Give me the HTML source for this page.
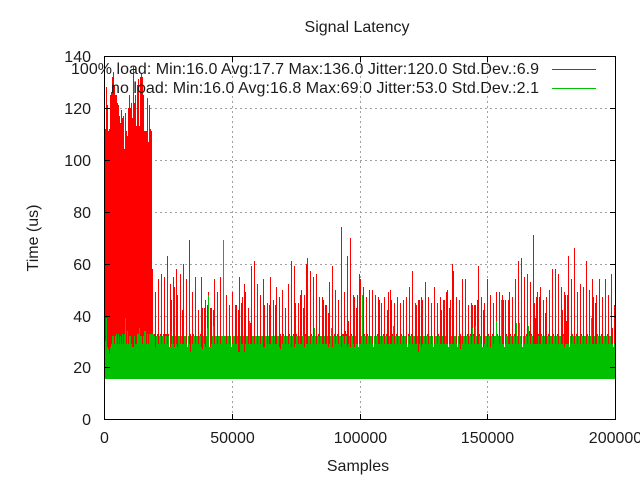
<!DOCTYPE html>
<html>
<head>
<meta charset="utf-8">
<title>Signal Latency</title>
<style>
html,body{margin:0;padding:0;background:#fff;width:640px;height:480px;overflow:hidden}
svg{display:block}
text{font-family:"Liberation Sans",sans-serif;font-size:16px;fill:#1c1c1c}
</style>
</head>
<body>
<svg id="chart" xmlns="http://www.w3.org/2000/svg" width="640" height="480" viewBox="0 0 640 480" shape-rendering="crispEdges">
  <rect x="0" y="0" width="640" height="480" fill="#fff"/>
  <g id="grid"></g>
  <g id="red-series"></g>
  <g id="green-series"></g>
  <g id="frame"></g>
  <g id="tick-labels"></g>
  <text x="357" y="32" text-anchor="middle">Signal Latency</text>
  <text x="358" y="471" text-anchor="middle">Samples</text>
  <text transform="translate(38,238) rotate(-90)" text-anchor="middle">Time (us)</text>
  <g>
    <text x="71" y="74" textLength="468" lengthAdjust="spacing">100% load: Min:16.0 Avg:17.7 Max:136.0 Jitter:120.0 Std.Dev.:6.9</text>
    <rect x="552" y="69" width="44" height="1" fill="#ff0000"/>
    <text x="111" y="93" textLength="428" lengthAdjust="spacing">no load: Min:16.0 Avg:16.8 Max:69.0 Jitter:53.0 Std.Dev.:2.1</text>
    <rect x="552" y="88" width="44" height="1" fill="#00c000"/>
  </g>
</svg>
<script>
const xTickValues = [0, 50000, 100000, 150000, 200000];
const yTickValues = [0, 20, 40, 60, 80, 100, 120, 140];
const sampleMax = 200000;
const baselineValue = 15.5;

const fullLoadValues = [
112,128,121,111,112,125,126,132,134,129,
125,125,122,121,117,114,119,116,117,104,
118,111,109,120,125,120,122,116,136,122,
125,113,129,131,113,132,133,132,125,111,
111,111,124,107,121,112,111,58,33,33,
49,30,33,54,30,33,56,30,33,55,
33,33,63,33,28,52,46,30,55,51,
30,58,48,30,30,56,30,42,60,30,
30,54,28,30,69,33,30,49,33,30,
55,30,30,42,30,33,55,43,30,43,
46,30,44,49,28,43,43,30,42,54,
30,30,49,30,30,55,30,30,69,30,
30,48,30,30,44,30,28,49,30,30,
44,44,30,42,55,30,45,47,30,52,
49,30,30,43,38,37,59,30,30,61,
30,30,52,30,30,48,30,30,54,44,
30,30,45,30,44,55,30,30,46,30,
44,51,30,30,47,33,30,50,33,30,
43,30,30,52,33,30,61,30,33,59,
45,33,30,45,30,48,50,30,43,48,
33,60,62,30,30,57,33,30,55,30,
30,56,30,33,47,30,30,47,46,30,
44,44,30,41,53,30,30,59,30,33,
50,30,33,46,30,30,74,33,33,49,
34,33,63,38,30,70,33,30,48,47,
30,43,48,28,56,54,30,30,51,33,
30,47,33,30,50,30,30,50,28,30,
48,30,33,47,46,30,45,30,33,47,
30,33,42,49,30,50,46,33,30,45,
30,33,47,30,30,45,33,30,46,30,
30,47,28,33,51,30,33,57,30,30,
45,44,30,46,46,30,47,46,30,30,
53,30,33,47,30,30,45,30,28,51,
30,30,45,33,30,47,42,30,46,46,
30,49,50,28,43,46,30,60,57,30,
30,47,28,30,46,33,30,54,30,30,
54,30,33,44,30,33,45,44,33,44,
44,30,46,59,33,30,47,28,42,45,
30,30,54,33,30,48,30,33,45,30,
30,49,33,30,49,30,30,48,46,28,
46,33,30,46,49,33,30,47,30,33,
54,33,30,61,34,30,62,28,30,55,
30,33,56,30,34,53,33,30,71,45,
39,47,49,33,47,51,33,30,46,30,
41,47,30,33,50,30,30,58,33,30,
58,30,33,56,30,30,51,42,33,49,
48,38,48,63,28,30,54,33,30,66,
30,33,49,30,30,52,33,30,51,30,
30,61,33,30,50,30,30,54,47,30,
45,48,33,30,54,30,33,47,30,30,
54,30,33,48,30,30,56,35,28,44
];

const noLoadValues = [
30,39,28,27,25,28,29,32,32,29,
32,33,29,33,29,32,29,33,29,33,
39,29,34,29,32,32,29,28,28,32,
29,29,33,33,35,32,32,29,32,34,
34,29,33,29,33,33,33,33,33,32,
28,32,32,29,32,32,29,32,32,29,
32,32,29,32,28,28,29,32,29,28,
32,29,28,32,32,29,32,29,29,32,
32,29,28,32,29,26,32,29,32,32,
29,32,32,29,32,32,28,27,32,29,
28,32,35,48,28,28,29,32,36,29,
32,32,29,32,32,29,32,32,69,32,
32,29,32,32,29,32,28,29,32,32,
29,29,32,26,26,32,29,29,32,26,
29,32,32,29,38,29,29,32,32,29,
32,32,29,32,32,29,32,32,28,28,
32,32,29,32,29,29,32,32,29,32,
29,29,32,32,28,27,32,29,32,32,
29,32,32,29,32,32,28,32,32,28,
29,32,32,29,32,29,29,32,32,28,
32,29,29,32,32,29,32,32,29,35,
32,29,32,32,29,32,32,29,29,32,
29,29,32,28,29,32,35,28,32,32,
29,32,32,29,32,32,28,32,32,29,
32,32,28,29,32,28,32,32,29,28,
32,29,29,28,29,29,32,48,29,32,
32,29,32,32,29,32,32,29,28,32,
29,32,32,29,29,32,29,32,32,29,
32,32,29,29,32,29,29,32,36,29,
32,32,29,32,32,29,32,32,29,32,
32,29,28,32,29,32,32,29,32,32,
29,29,32,26,29,32,28,29,32,32,
29,32,32,29,32,32,29,32,28,29,
32,32,29,32,32,29,29,32,29,29,
32,29,29,28,29,29,32,29,29,32,
32,29,28,32,29,27,32,29,32,32,
29,32,32,29,32,32,29,35,32,29,
36,32,29,29,32,32,29,28,28,29,
32,32,28,32,32,28,32,32,29,32,
32,38,32,32,29,32,46,29,29,28,
29,32,32,29,29,32,32,29,32,32,
29,37,32,29,37,32,29,28,32,29,
32,32,29,36,32,29,32,32,29,29,
29,29,29,32,29,29,32,32,29,32,
29,29,32,32,29,32,32,29,32,32,
29,32,32,29,32,32,29,29,32,28,
29,29,29,29,28,32,29,32,32,29,
32,32,29,32,32,29,32,32,29,32,
32,29,32,32,29,32,39,29,29,32,
29,29,32,32,29,32,32,29,32,32,
29,32,32,29,32,32,29,29,28,29
];

const SVG_NS = 'http://www.w3.org/2000/svg';
const plotLeft = 105, plotWidth = 510, plotRight = 615, plotTop = 56, plotBottom = 419;

function xScale(sample) { return plotLeft + sample / sampleMax * plotWidth; }
function yScale(value) { return 419.3 - value * 2.595; }

function makeRect(parent, x, y, w, h, fill) {
  const r = document.createElementNS(SVG_NS, 'rect');
  r.setAttribute('x', x);
  r.setAttribute('y', y);
  r.setAttribute('width', w);
  r.setAttribute('height', h);
  r.setAttribute('fill', fill);
  parent.appendChild(r);
  return r;
}

function makeLine(parent, x1, y1, x2, y2) {
  const l = document.createElementNS(SVG_NS, 'line');
  l.setAttribute('x1', x1);
  l.setAttribute('y1', y1);
  l.setAttribute('x2', x2);
  l.setAttribute('y2', y2);
  l.setAttribute('stroke', '#a0a0a0');
  l.setAttribute('stroke-width', '1');
  l.setAttribute('stroke-dasharray', '2 3');
  parent.appendChild(l);
  return l;
}

function makeLabel(parent, x, y, anchor, content) {
  const t = document.createElementNS(SVG_NS, 'text');
  t.setAttribute('x', x);
  t.setAttribute('y', y);
  t.setAttribute('text-anchor', anchor);
  t.textContent = content;
  parent.appendChild(t);
  return t;
}

const gridGroup = document.getElementById('grid');
const frameGroup = document.getElementById('frame');
const labelGroup = document.getElementById('tick-labels');
const redGroup = document.getElementById('red-series');
const greenGroup = document.getElementById('green-series');

xTickValues.forEach(function (v) {
  const px = Math.floor(xScale(v)) - (v === 0 ? 1 : 0);
  if (v > 0 && v < sampleMax) {
    const g = makeLine(gridGroup, px + 0.5, plotTop, px + 0.5, plotBottom);
    
    
  }
  const t1 = makeRect(frameGroup, px, plotBottom - 5, 1, 5, '#000');
  
  
  const t2 = makeRect(frameGroup, px, plotTop, 1, 6, '#000');
  
  
  const lab = makeLabel(labelGroup, px + 0.5, 443, 'middle', String(v));
  
  
});

yTickValues.forEach(function (v) {
  const py = Math.round(yScale(v));
  if (v > 0 && v < 140) {
    const g = makeLine(gridGroup, plotLeft, py + 0.5, plotRight, py + 0.5);
    
    
  }
  const t1 = makeRect(frameGroup, 104, py, 6, 1, '#000');
  
  
  const t2 = makeRect(frameGroup, plotRight - 5, py, 5, 1, '#000');
  
  
  const lab = makeLabel(labelGroup, 91, py + 6, 'end', String(v));
  
  
});

const binSamples = sampleMax / plotWidth;

fullLoadValues.forEach(function (v, i) {
  const top = Math.round(yScale(v));
  const bottom = Math.round(yScale(baselineValue));
  const b = makeRect(redGroup, Math.round(xScale(i * binSamples)), top, 1, Math.max(0, bottom - top), '#ff0000');
  
  
});

noLoadValues.forEach(function (v, i) {
  const top = Math.round(yScale(v));
  const bottom = Math.round(yScale(baselineValue));
  const b = makeRect(greenGroup, Math.round(xScale(i * binSamples)), top, 1, Math.max(0, bottom - top), '#00c000');
  
  
});

const frameLeft = makeRect(frameGroup, 104, plotTop, 1, plotBottom - plotTop + 1, '#000');


const frameRight = makeRect(frameGroup, plotRight, plotTop, 1, plotBottom - plotTop + 1, '#000');


const frameTop = makeRect(frameGroup, 104, plotTop, plotRight - 103, 1, '#000');


const frameBottom = makeRect(frameGroup, 104, plotBottom, plotRight - 103, 1, '#000');


</script>
</body>
</html>
